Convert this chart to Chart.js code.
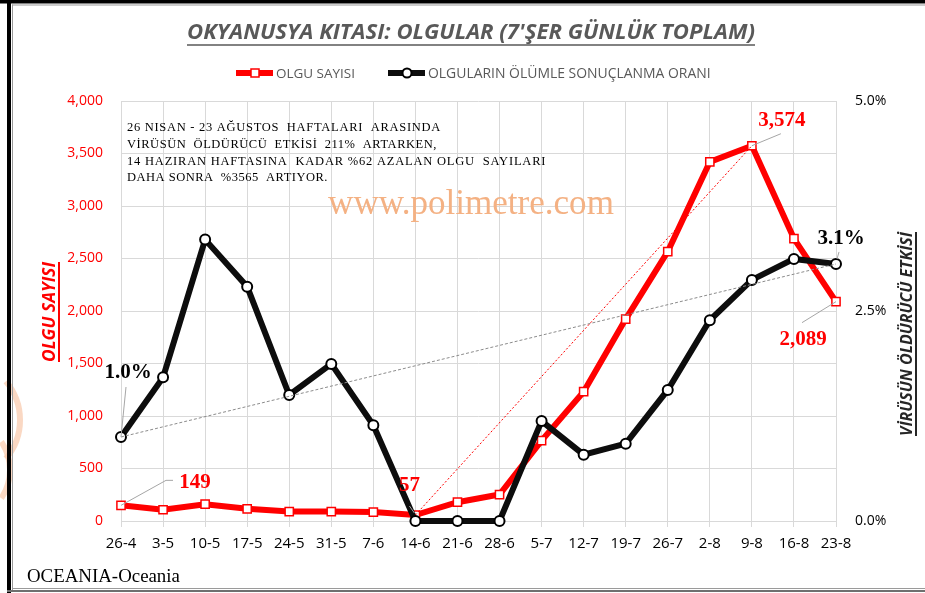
<!DOCTYPE html>
<html>
<head>
<meta charset="utf-8">
<script src="https://cdn.jsdelivr.net/npm/chart.js@4.4.0/dist/chart.umd.min.js"></script>
<style>
html, body { margin: 0; padding: 0; background: #fff; }
#kutu { width: 925px; height: 593px; }
</style>
</head>
<body>
<div id="kutu"><canvas id="grafica" width="925" height="593"></canvas></div>
<script>
// Haftalar (7 gunluk donemlerin baslangici)
const haftalar = ['26-4', '3-5', '10-5', '17-5', '24-5', '31-5', '7-6', '14-6', '21-6', '28-6',
    '5-7', '12-7', '19-7', '26-7', '2-8', '9-8', '16-8', '23-8'];
// Olgu sayisi (sol eksen)
const olguSayisi = [149, 107, 160, 116, 90, 90, 85, 57, 179, 252, 766, 1232, 1923, 2566, 3420, 3574, 2690, 2089];
// Olumle sonuclanma orani, % (sag eksen)
const olumOrani = [1.0, 1.71, 3.35, 2.79, 1.50, 1.87, 1.14, 0, 0, 0, 1.19, 0.79, 0.92, 1.56, 2.39, 2.87, 3.12, 3.06];

const notSatirlari = [
    '26 NISAN - 23 AĞUSTOS  HAFTALARI  ARASINDA',
    'VİRÜSÜN  ÖLDÜRÜCÜ  ETKİSİ  211%  ARTARKEN,',
    '14 HAZIRAN HAFTASINA  KADAR %62 AZALAN OLGU  SAYILARI',
    'DAHA SONRA  %3565  ARTIYOR.'
];

// Trend cizgileri: en dusukten en yuksege (olgu), ilk haftadan son haftaya (oran)
const minIdx = olguSayisi.indexOf(Math.min(...olguSayisi));
const maxIdx = olguSayisi.indexOf(Math.max(...olguSayisi));
const sonIdx = olumOrani.length - 1;
const trendOlgu = olguSayisi.map((v, i) => (i === minIdx || i === maxIdx) ? v : null);
const trendOran = olumOrani.map((v, i) => (i === 0 || i === sonIdx) ? v : null);

const sayiYaz = v => v.toLocaleString('en-US');
const yuzdeYaz = v => v.toFixed(1) + '%';

// veri etiketleri: hangi dataset, hangi nokta, metin ofseti, kilavuz cizgisi
const etiketler = [
    { ds: 1, i: 0, metin: sayiYaz(olguSayisi[0]), renk: '#ff0000', dx: 74, dy: -23, kilavuz: [[0, 0], [45, -25], [52, -25]] },
    { ds: 1, i: minIdx, metin: sayiYaz(olguSayisi[minIdx]), renk: '#ff0000', dx: -6, dy: -29, kilavuz: [[-1, -2], [-6, -9]] },
    { ds: 1, i: maxIdx, metin: sayiYaz(olguSayisi[maxIdx]), renk: '#ff0000', dx: 30, dy: -25, kilavuz: [[0, 0], [29, -12]] },
    { ds: 1, i: sonIdx, metin: sayiYaz(olguSayisi[sonIdx]), renk: '#ff0000', dx: -33, dy: 38, kilavuz: [[0, 0], [-34, 21]] },
    { ds: 0, i: 0, metin: yuzdeYaz(olumOrani[0]), renk: '#000000', dx: 7, dy: -64, kilavuz: [[0, 0], [5, -50]] },
    { ds: 0, i: sonIdx, metin: yuzdeYaz(olumOrani[sonIdx]), renk: '#000000', dx: 5, dy: -25, kilavuz: [[1, -5], [3, -12]] }
];

function boyutla(ctx, metin, hedef, stil, aile, taban) {
    ctx.font = `${stil} ${taban}px ${aile}`;
    const w = ctx.measureText(metin).width;
    const boy = taban * hedef / w;
    ctx.font = `${stil} ${boy}px ${aile}`;
    return boy;
}

const cizimEklentisi = {
    id: 'cizim',
    beforeDraw(chart) {
        const ctx = chart.ctx;
        ctx.save();
        ctx.fillStyle = '#fff';
        ctx.fillRect(0, 0, chart.width, chart.height);
        // sol kenardaki soluk turuncu logo parcasi
        ctx.strokeStyle = 'rgba(248, 200, 170, 0.7)';
        ctx.lineWidth = 6;
        ctx.beginPath(); ctx.arc(-40, 420, 60, -0.7, 0.7); ctx.stroke();
        ctx.beginPath(); ctx.arc(-40, 470, 50, -0.6, 0.6); ctx.stroke();
        // cerceve
        ctx.fillStyle = '#000';
        ctx.fillRect(0, 0, chart.width, 3.5);
        ctx.fillRect(7, 0, 4, chart.height);
        ctx.fillStyle = '#9a9a9a';
        ctx.fillRect(12, 4.5, chart.width - 12, 1);
        ctx.fillRect(12, 4.5, 1, chart.height - 6);
        ctx.fillRect(12, 588, chart.width - 12, 1);
        ctx.fillStyle = '#6f6f6f';
        ctx.fillRect(7, 590, chart.width - 7, 2);
        ctx.restore();
    },
    beforeDatasetsDraw(chart) {
        const ctx = chart.ctx;
        ctx.save();
        // filigran
        ctx.fillStyle = '#f4b183';
        ctx.textAlign = 'center';
        ctx.textBaseline = 'middle';
        boyutla(ctx, 'www.polimetre.com', 286, '', '"Liberation Serif"', 34);
        ctx.fillText('www.polimetre.com', 471, 205);
        // aciklama metni
        const hedefler = [314, 310, 419, 201];
        const ySat = [128, 145, 161.5, 178];
        ctx.fillStyle = '#000';
        ctx.textAlign = 'left';
        notSatirlari.forEach((s, k) => {
            ctx.font = '12.5px "Liberation Serif"';
            ctx.letterSpacing = '0px';
            const w = ctx.measureText(s).width;
            ctx.letterSpacing = ((hedefler[k] - w) / s.length).toFixed(2) + 'px';
            ctx.fillText(s, 127, ySat[k]);
        });
        ctx.letterSpacing = '0px';
        ctx.restore();
    },
    afterDatasetsDraw(chart) {
        const ctx = chart.ctx;
        ctx.save();
        etiketler.forEach(e => {
            const p = chart.getDatasetMeta(e.ds).data[e.i];
            ctx.strokeStyle = '#a6a6a6';
            ctx.lineWidth = 1;
            ctx.beginPath();
            e.kilavuz.forEach(([a, b], k) => k ? ctx.lineTo(p.x + a, p.y + b) : ctx.moveTo(p.x + a, p.y + b));
            ctx.stroke();
            ctx.fillStyle = e.renk;
            ctx.font = 'bold 21px "Liberation Serif"';
            ctx.textAlign = 'center';
            ctx.textBaseline = 'middle';
            ctx.fillText(e.metin, p.x + e.dx, p.y + e.dy);
        });
        ctx.restore();
    },
    afterDraw(chart) {
        const ctx = chart.ctx;
        ctx.save();
        ctx.textBaseline = 'middle';
        // baslik
        const baslik = "OKYANUSYA KITASI: OLGULAR (7'ŞER GÜNLÜK TOPLAM)";
        ctx.fillStyle = '#595959';
        ctx.strokeStyle = '#595959';
        ctx.textAlign = 'center';
        boyutla(ctx, baslik, 568, 'italic bold', '"Open Sans"', 19);
        ctx.fillText(baslik, 471, 33);
        ctx.lineWidth = 1.5;
        ctx.beginPath(); ctx.moveTo(187, 45); ctx.lineTo(755, 45); ctx.stroke();

        // lejant
        const lejant = [
            { x: 236, renk: '#ff0000', isaret: 'kare', metin: 'OLGU SAYISI', gen: 79 },
            { x: 388, renk: '#0d0d0d', isaret: 'daire', metin: 'OLGULARIN ÖLÜMLE SONUÇLANMA ORANI', gen: 283 }
        ];
        lejant.forEach(l => {
            ctx.strokeStyle = l.renk;
            ctx.lineWidth = 6;
            ctx.beginPath(); ctx.moveTo(l.x, 73); ctx.lineTo(l.x + 37, 73); ctx.stroke();
            ctx.fillStyle = '#fff';
            ctx.lineWidth = l.isaret === 'kare' ? 1.5 : 2;
            ctx.strokeStyle = l.isaret === 'kare' ? '#ff0000' : '#000';
            ctx.beginPath();
            if (l.isaret === 'kare') ctx.rect(l.x + 15, 69, 8, 8);
            else ctx.arc(l.x + 19, 73, 4.5, 0, Math.PI * 2);
            ctx.fill(); ctx.stroke();
            ctx.fillStyle = '#595959';
            ctx.textAlign = 'left';
            boyutla(ctx, l.metin, l.gen, '', '"Open Sans"', 12);
            ctx.fillText(l.metin, l.x + 40, 74);
        });

        // eksen basliklari
        const eksenBasligi = (metin, x, y, hedef, renk, cizgiX) => {
            ctx.save();
            ctx.translate(x, y);
            ctx.rotate(-Math.PI / 2);
            ctx.fillStyle = renk;
            ctx.strokeStyle = renk;
            ctx.textAlign = 'center';
            boyutla(ctx, metin, hedef, 'italic bold', '"Open Sans"', 16);
            ctx.fillText(metin, 0, 0);
            ctx.lineWidth = 2;
            ctx.beginPath(); ctx.moveTo(-hedef / 2, cizgiX); ctx.lineTo(hedef / 2, cizgiX); ctx.stroke();
            ctx.restore();
        };
        eksenBasligi('OLGU SAYISI', 50, 312, 100, '#ff0000', 9);
        eksenBasligi('VİRÜSÜN ÖLDÜRÜCÜ ETKİSİ', 907, 334, 204, '#262626', 9);

        // alt yazi
        ctx.fillStyle = '#000';
        ctx.textAlign = 'left';
        boyutla(ctx, 'OCEANIA-Oceania', 153, '', '"Liberation Serif"', 18);
        ctx.fillText('OCEANIA-Oceania', 27, 577);
        ctx.restore();
    }
};

const config = {
    type: 'line',
    data: {
        labels: haftalar,
        datasets: [
            {
                label: 'OLGULARIN ÖLÜMLE SONUÇLANMA ORANI',
                data: olumOrani,
                yAxisID: 'y1',
                borderColor: '#0d0d0d',
                borderWidth: 6,
                pointStyle: 'circle',
                pointRadius: 5,
                pointBackgroundColor: '#fff',
                pointBorderColor: '#000',
                pointBorderWidth: 2,
                order: 1,
                clip: false
            },
            {
                label: 'OLGU SAYISI',
                data: olguSayisi,
                yAxisID: 'y',
                borderColor: '#ff0000',
                borderWidth: 6,
                pointStyle: 'rect',
                pointRadius: 5.8,
                pointBackgroundColor: '#fff',
                pointBorderColor: '#ff0000',
                pointBorderWidth: 1.5,
                order: 2,
                clip: false
            },
            {
                label: 'trend olgu',
                data: trendOlgu,
                yAxisID: 'y',
                borderColor: '#ff0000',
                borderWidth: 1,
                borderDash: [2, 2],
                pointRadius: 0,
                spanGaps: true,
                order: 0
            },
            {
                label: 'trend oran',
                data: trendOran,
                yAxisID: 'y1',
                borderColor: '#8c8c8c',
                borderWidth: 1,
                borderDash: [3, 2],
                pointRadius: 0,
                spanGaps: true,
                order: 0
            }
        ]
    },
    options: {
        responsive: false,
        animation: false,
        layout: { padding: { top: 101, left: 0, right: 0, bottom: 0 } },
        plugins: { legend: { display: false }, tooltip: { enabled: false } },
        scales: {
            x: {
                afterFit: s => { s.height = 72; },
                grid: { color: '#d9d9d9', tickLength: 6 },
                border: { color: '#d9d9d9' },
                ticks: { color: '#000', font: { family: '"Open Sans"', size: 15 }, padding: 8, maxRotation: 0, autoSkip: false }
            },
            y: {
                position: 'left',
                min: 0, max: 4000,
                afterFit: s => { s.width = 121; },
                grid: { color: '#d9d9d9', drawTicks: false },
                border: { display: false },
                ticks: { stepSize: 500, color: '#ff0000', font: { family: '"Open Sans"', size: 14 }, padding: 18, callback: v => sayiYaz(v) }
            },
            y1: {
                position: 'right',
                min: 0, max: 5,
                afterFit: s => { s.width = 89; },
                grid: { drawOnChartArea: false, drawTicks: false },
                border: { display: false },
                ticks: { stepSize: 2.5, color: '#000', font: { family: '"Open Sans"', size: 14 }, padding: 19, callback: v => yuzdeYaz(v) }
            }
        }
    },
    plugins: [cizimEklentisi]
};

new Chart(document.getElementById('grafica'), config);
</script>
</body>
</html>
